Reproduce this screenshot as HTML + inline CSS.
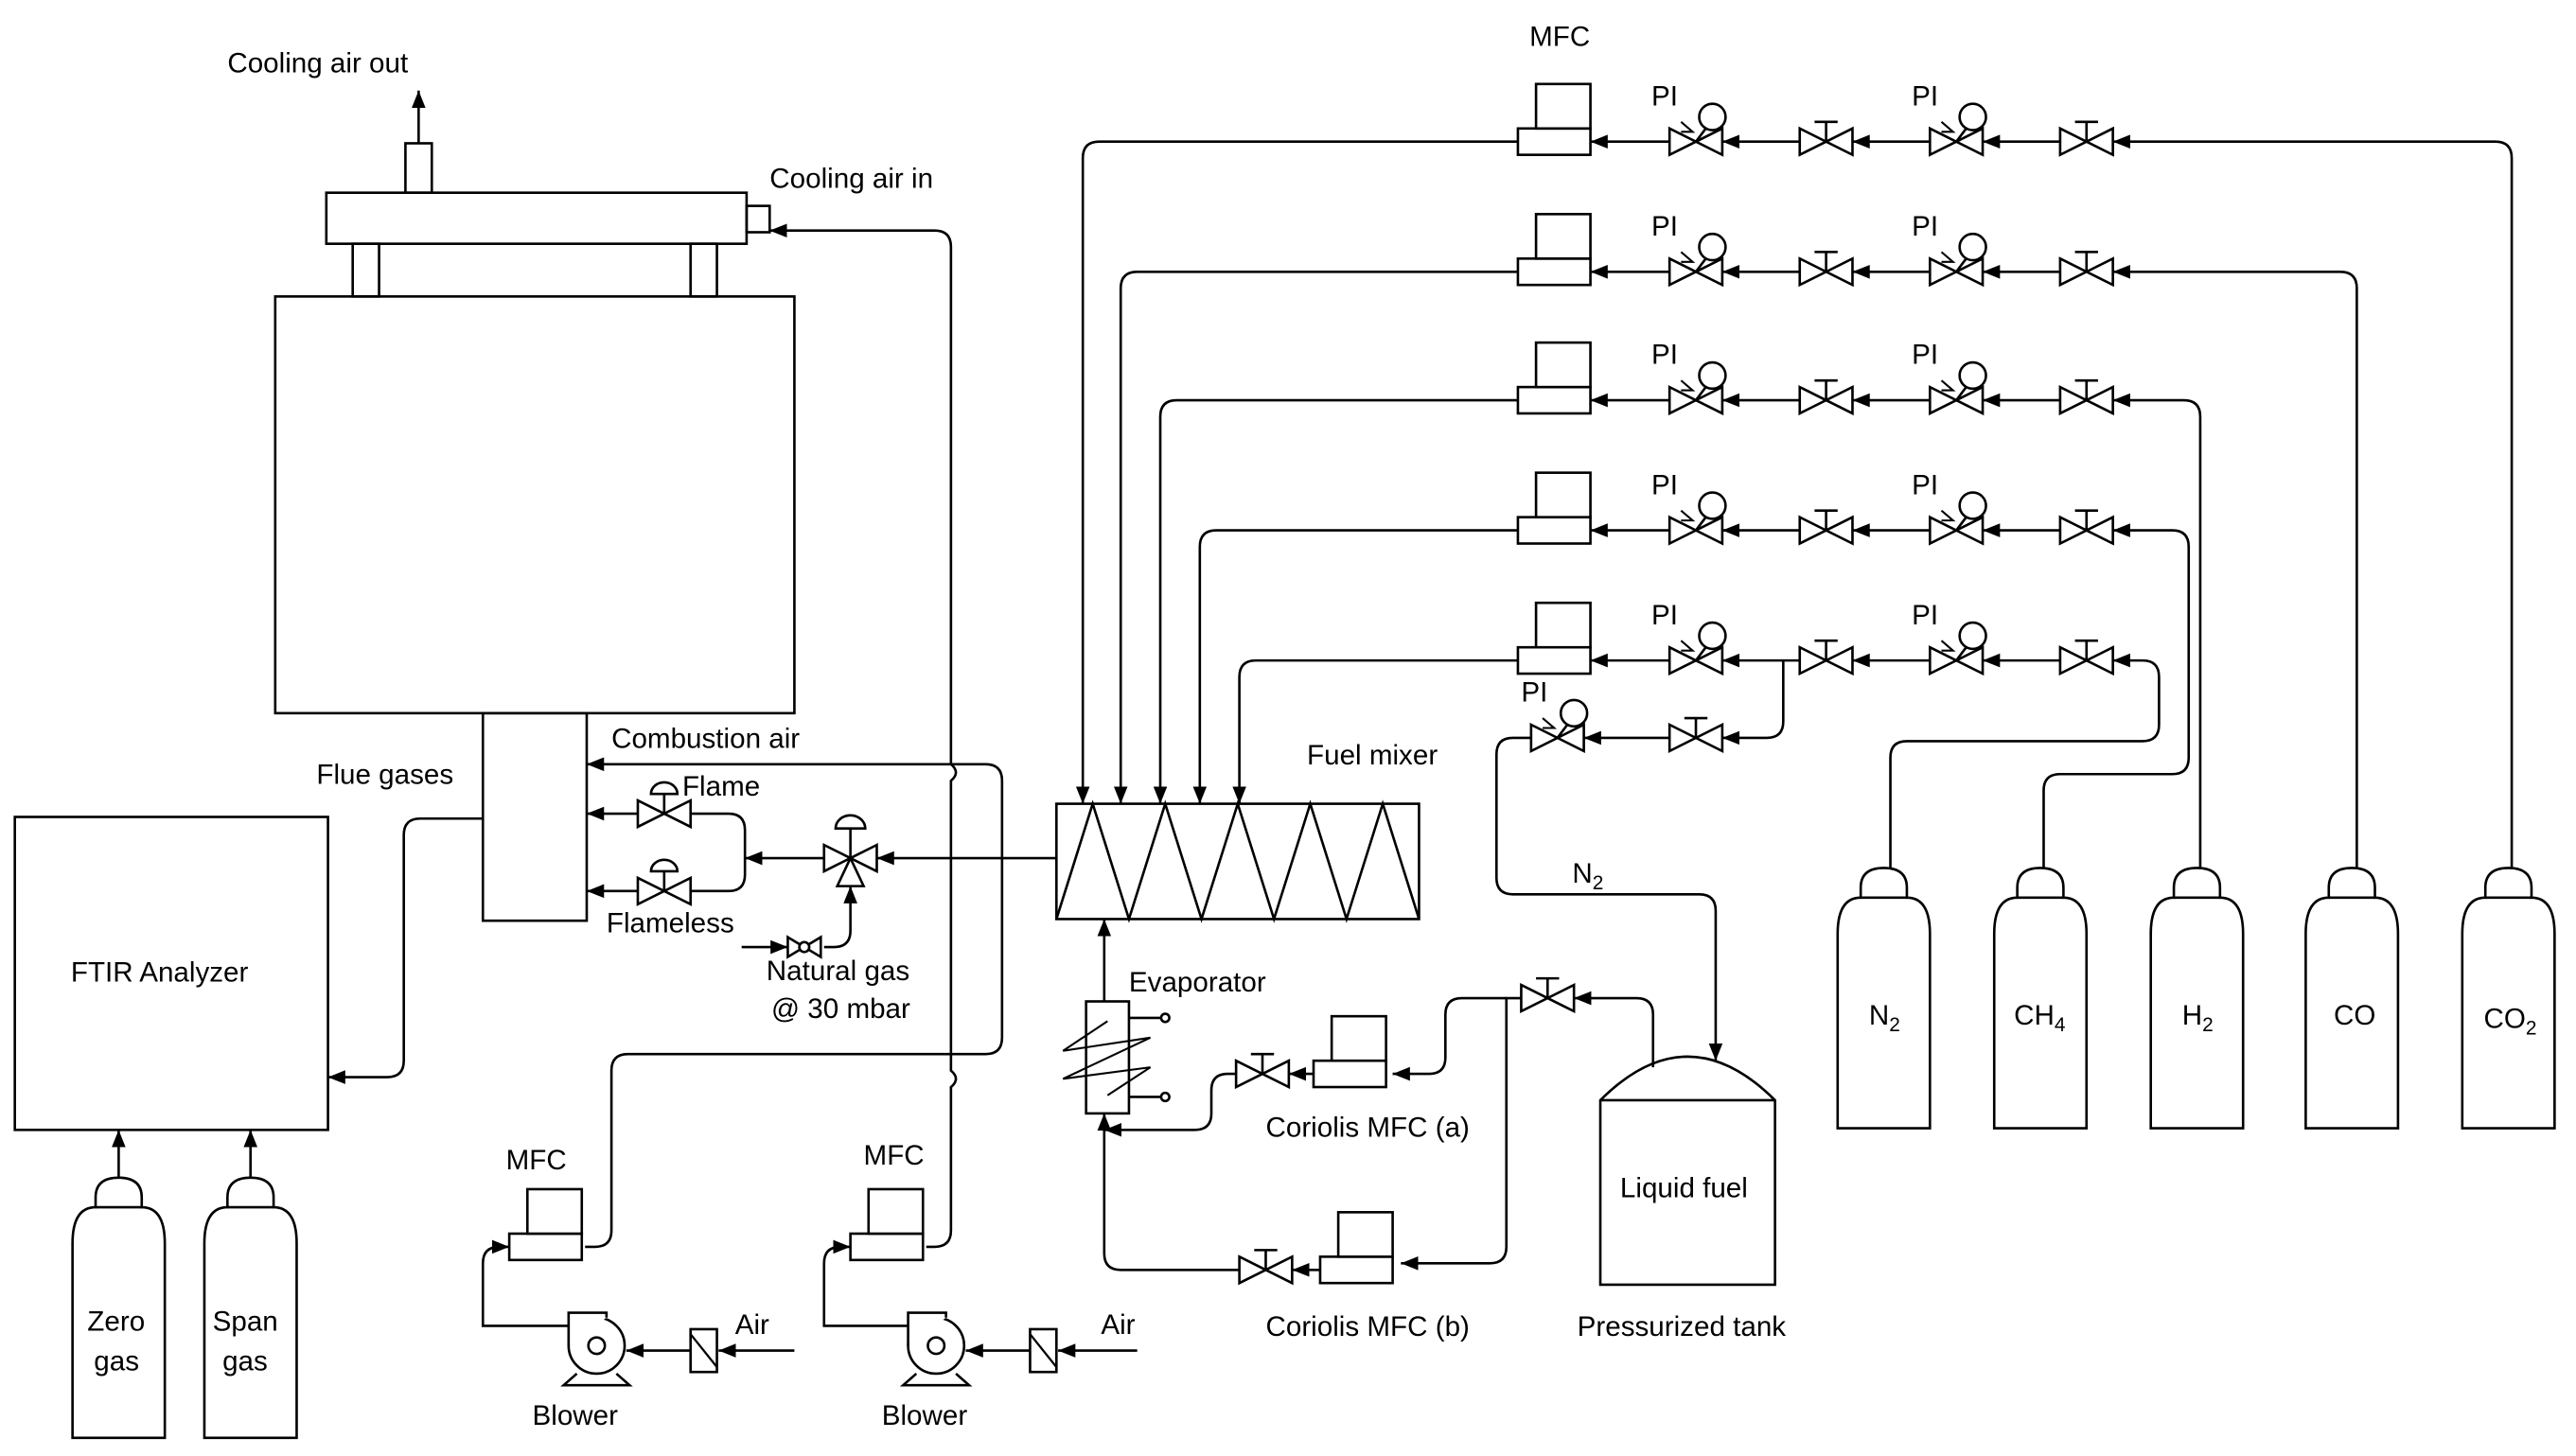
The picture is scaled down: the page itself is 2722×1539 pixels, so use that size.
<!DOCTYPE html>
<html><head><meta charset="utf-8"><style>
html,body{margin:0;padding:0;background:#fff;}
svg{display:block;}
text{font-family:"Liberation Sans",sans-serif;font-size:17px;fill:#000;}
</style></head><body>
<svg width="2722" height="1539" viewBox="0 0 1563 884" preserveAspectRatio="none" xmlns="http://www.w3.org/2000/svg">
<defs>
<marker id="a" viewBox="0 0 10 10" refX="10" refY="5" markerWidth="7" markerHeight="7" orient="auto"><path d="M0,1 L10,5 L0,9 z" fill="#000"/></marker>
<g id="bt"><path d="M-16,-8 L16,8 L16,-8 L-16,8 Z" fill="#fff" stroke="#000" stroke-width="1.5"/></g>
<g id="nv"><use href="#bt"/><line x1="0" y1="0" x2="0" y2="-12" stroke="#000" stroke-width="1.5"/><line x1="-7" y1="-12" x2="7" y2="-12" stroke="#000" stroke-width="1.5"/></g>
<g id="pv"><use href="#bt"/><line x1="0" y1="0" x2="6" y2="-8" stroke="#000" stroke-width="1.5"/><circle cx="10" cy="-15" r="8" fill="#fff" stroke="#000" stroke-width="1.5"/><path d="M-9,-12 L-2,-6 L-9,-6" fill="none" stroke="#000" stroke-width="1.2"/></g>
<g id="mfc"><rect x="0" y="-8" width="44" height="16" fill="#fff" stroke="#000" stroke-width="1.5"/><rect x="11" y="-35" width="33" height="27" fill="#fff" stroke="#000" stroke-width="1.5"/></g>
<g id="cyl"><path d="M0,0 L0,-118 Q0,-140 14,-140 L14,-146 Q14,-158 28,-158 Q42,-158 42,-146 L42,-140 Q56,-140 56,-118 L56,0 Z" fill="#fff" stroke="#000" stroke-width="1.5"/><line x1="14" y1="-140" x2="42" y2="-140" stroke="#000" stroke-width="1.5"/></g>
<g id="blw"><circle cx="0" cy="0" r="17" fill="#fff" stroke="#000" stroke-width="1.5"/><circle cx="0" cy="0" r="5" fill="none" stroke="#000" stroke-width="1.5"/><path d="M-17,0 L-17,-20 L6,-20 L6,-17" fill="#fff" stroke="#000" stroke-width="1.5"/><path d="M-12,17 L-20,24 L20,24 L12,17" fill="none" stroke="#000" stroke-width="1.5"/></g>
<g id="flt"><rect x="-8" y="-13" width="16" height="26" fill="#fff" stroke="#000" stroke-width="1.5"/><line x1="-8" y1="-10" x2="8" y2="10" stroke="#000" stroke-width="1.3"/></g>
</defs>
<g fill="none" stroke="#000" stroke-width="1.5">
<line x1="254" y1="87" x2="254" y2="55" marker-end="url(#a)"/>
<rect x="246" y="87" width="16" height="30" fill="#fff"/>
<rect x="198" y="117" width="255" height="31"/>
<rect x="453" y="125" width="14" height="16"/>
<rect x="214" y="148" width="16" height="32"/><rect x="419" y="148" width="16" height="32"/>
<rect x="167" y="180" width="315" height="253"/>
<rect x="293" y="433" width="63" height="126"/>
<rect x="9" y="496" width="190" height="190"/>
<path d="M293,497 L255,497 Q245,497 245,507 L245,644 Q245,654 235,654 L199,654" marker-end="url(#a)"/>
<line x1="72" y1="722" x2="72" y2="686" marker-end="url(#a)"/>
<line x1="152" y1="722" x2="152" y2="686" marker-end="url(#a)"/>
<path d="M355,757 L361,757 Q371,757 371,747 L371,650 Q371,640 381,640 L598,640 Q608,640 608,630 L608,474 Q608,464 598,464 L356,464" marker-end="url(#a)"/>
<path d="M562,757 L567,757 Q577,757 577,747 L577,660 Q583,655 577,650 L577,474 Q583,469 577,464 L577,150 Q577,140 567,140 L467,140" marker-end="url(#a)"/>
<line x1="387" y1="494" x2="356" y2="494" marker-end="url(#a)"/>
<line x1="387" y1="541" x2="356" y2="541" marker-end="url(#a)"/>
<path d="M419,494 L442,494 Q452,494 452,504 L452,531 Q452,541 442,541 L419,541"/>
<line x1="500" y1="521" x2="452" y2="521" marker-end="url(#a)"/>
<line x1="641" y1="521" x2="532" y2="521" marker-end="url(#a)"/>
<path d="M500,575 L506,575 Q516,575 516,565 L516,538" marker-end="url(#a)"/>
<line x1="450" y1="575" x2="478" y2="575" marker-end="url(#a)"/>
<rect x="641" y="488" width="220" height="70"/>
<path d="M641,558 L663,488 L685,558 L707,488 L729,558 L751,488 L773,558 L795,488 L817,558 L839,488 L861,558"/>
<path d="M921,86 L667,86 Q657,86 657,96 L657,488" marker-end="url(#a)"/>
<path d="M921,165 L690,165 Q680,165 680,175 L680,488" marker-end="url(#a)"/>
<path d="M921,243 L714,243 Q704,243 704,253 L704,488" marker-end="url(#a)"/>
<path d="M921,322 L738,322 Q728,322 728,332 L728,488" marker-end="url(#a)"/>
<path d="M921,401 L762,401 Q752,401 752,411 L752,488" marker-end="url(#a)"/>
<line x1="1013" y1="86" x2="965" y2="86" marker-end="url(#a)"/>
<line x1="1092" y1="86" x2="1045" y2="86" marker-end="url(#a)"/>
<line x1="1171" y1="86" x2="1124" y2="86" marker-end="url(#a)"/>
<line x1="1250" y1="86" x2="1203" y2="86" marker-end="url(#a)"/>
<path d="M1524,530 L1524,96 Q1524,86 1514,86 L1282,86" marker-end="url(#a)"/>
<line x1="1013" y1="165" x2="965" y2="165" marker-end="url(#a)"/>
<line x1="1092" y1="165" x2="1045" y2="165" marker-end="url(#a)"/>
<line x1="1171" y1="165" x2="1124" y2="165" marker-end="url(#a)"/>
<line x1="1250" y1="165" x2="1203" y2="165" marker-end="url(#a)"/>
<path d="M1430,530 L1430,175 Q1430,165 1420,165 L1282,165" marker-end="url(#a)"/>
<line x1="1013" y1="243" x2="965" y2="243" marker-end="url(#a)"/>
<line x1="1092" y1="243" x2="1045" y2="243" marker-end="url(#a)"/>
<line x1="1171" y1="243" x2="1124" y2="243" marker-end="url(#a)"/>
<line x1="1250" y1="243" x2="1203" y2="243" marker-end="url(#a)"/>
<path d="M1335,530 L1335,253 Q1335,243 1325,243 L1282,243" marker-end="url(#a)"/>
<line x1="1013" y1="322" x2="965" y2="322" marker-end="url(#a)"/>
<line x1="1092" y1="322" x2="1045" y2="322" marker-end="url(#a)"/>
<line x1="1171" y1="322" x2="1124" y2="322" marker-end="url(#a)"/>
<line x1="1250" y1="322" x2="1203" y2="322" marker-end="url(#a)"/>
<path d="M1240,530 L1240,480 Q1240,470 1250,470 L1318,470 Q1328,470 1328,460 L1328,332 Q1328,322 1318,322 L1282,322" marker-end="url(#a)"/>
<line x1="1013" y1="401" x2="965" y2="401" marker-end="url(#a)"/>
<line x1="1092" y1="401" x2="1045" y2="401" marker-end="url(#a)"/>
<line x1="1171" y1="401" x2="1124" y2="401" marker-end="url(#a)"/>
<line x1="1250" y1="401" x2="1203" y2="401" marker-end="url(#a)"/>
<path d="M1147,530 L1147,460 Q1147,450 1157,450 L1300,450 Q1310,450 1310,440 L1310,411 Q1310,401 1300,401 L1282,401" marker-end="url(#a)"/>
<path d="M1082,401 L1082,438 Q1082,448 1072,448 L1045,448" marker-end="url(#a)"/>
<line x1="1013" y1="448" x2="961" y2="448" marker-end="url(#a)"/>
<path d="M929,448 L918,448 Q908,448 908,458 L908,533 Q908,543 918,543 L1031,543 Q1041,543 1041,553 L1041,644" marker-end="url(#a)"/>
<path d="M971,780 L971,668 Q1024,615 1077,668 L1077,780 Z"/>
<line x1="971" y1="668" x2="1077" y2="668"/>
<path d="M1003,648 L1003,616 Q1003,606 993,606 L955,606" marker-end="url(#a)"/>
<path d="M923,606 L914,606 L914,757 Q914,767 904,767 L850,767" marker-end="url(#a)"/>
<path d="M914,606 L887,606 Q877,606 877,616 L877,642 Q877,652 867,652 L845,652" marker-end="url(#a)"/>
<line x1="797" y1="652" x2="782" y2="652" marker-end="url(#a)"/>
<path d="M750,652 L745,652 Q735,652 735,662 L735,676 Q735,686 725,686 L670,686" marker-end="url(#a)"/>
<line x1="801" y1="771" x2="784" y2="771" marker-end="url(#a)"/>
<path d="M752,771 L680,771 Q670,771 670,761 L670,676" marker-end="url(#a)"/>
<line x1="670" y1="608" x2="670" y2="558" marker-end="url(#a)"/>
<rect x="659" y="608" width="26" height="68" fill="#fff"/>
<path d="M672,620 L645,638 L698,630 L645,655 L698,648 L672,665" stroke-width="1.2"/>
<line x1="685" y1="618" x2="704" y2="618"/><circle cx="707" cy="618" r="2.5"/>
<line x1="685" y1="666" x2="704" y2="666"/><circle cx="707" cy="666" r="2.5"/>
<path d="M345,805 L293,805 L293,767 Q293,757 303,757 L309,757" marker-end="url(#a)"/>
<line x1="419" y1="820" x2="380" y2="820" marker-end="url(#a)"/>
<line x1="482" y1="820" x2="436" y2="820" marker-end="url(#a)"/>
<path d="M551,805 L500,805 L500,767 Q500,757 510,757 L516,757" marker-end="url(#a)"/>
<line x1="625" y1="820" x2="586" y2="820" marker-end="url(#a)"/>
<line x1="690" y1="820" x2="642" y2="820" marker-end="url(#a)"/>
</g>
<use href="#mfc" x="921" y="86"/><use href="#mfc" x="921" y="165"/><use href="#mfc" x="921" y="243"/><use href="#mfc" x="921" y="322"/><use href="#mfc" x="921" y="401"/>
<use href="#pv" x="1029" y="86"/><use href="#nv" x="1108" y="86"/><use href="#pv" x="1187" y="86"/><use href="#nv" x="1266" y="86"/>
<use href="#pv" x="1029" y="165"/><use href="#nv" x="1108" y="165"/><use href="#pv" x="1187" y="165"/><use href="#nv" x="1266" y="165"/>
<use href="#pv" x="1029" y="243"/><use href="#nv" x="1108" y="243"/><use href="#pv" x="1187" y="243"/><use href="#nv" x="1266" y="243"/>
<use href="#pv" x="1029" y="322"/><use href="#nv" x="1108" y="322"/><use href="#pv" x="1187" y="322"/><use href="#nv" x="1266" y="322"/>
<use href="#pv" x="1029" y="401"/><use href="#nv" x="1108" y="401"/><use href="#pv" x="1187" y="401"/><use href="#nv" x="1266" y="401"/>
<use href="#pv" x="945" y="448"/><use href="#nv" x="1029" y="448"/>
<use href="#nv" x="939" y="606"/><use href="#nv" x="766" y="652"/><use href="#nv" x="768" y="771"/>
<use href="#mfc" x="797" y="652"/><use href="#mfc" x="801" y="771"/>
<use href="#mfc" x="309" y="757"/><use href="#mfc" x="516" y="757"/>
<g transform="translate(403,494)"><path d="M-16,-8 L16,8 L16,-8 L-16,8 Z" fill="#fff" stroke="#000" stroke-width="1.5"/><line x1="0" y1="0" x2="0" y2="-12" stroke="#000" stroke-width="1.5"/><path d="M-8,-12 A8,7 0 0 1 8,-12 Z" fill="#fff" stroke="#000" stroke-width="1.5"/></g>
<g transform="translate(403,541)"><path d="M-16,-8 L16,8 L16,-8 L-16,8 Z" fill="#fff" stroke="#000" stroke-width="1.5"/><line x1="0" y1="0" x2="0" y2="-12" stroke="#000" stroke-width="1.5"/><path d="M-8,-12 A8,7 0 0 1 8,-12 Z" fill="#fff" stroke="#000" stroke-width="1.5"/></g>
<g transform="translate(516,521)" fill="#fff" stroke="#000" stroke-width="1.5"><path d="M-16,-8 L0,0 L-16,8 Z"/><path d="M16,-8 L0,0 L16,8 Z"/><path d="M-8,17 L0,0 L8,17 Z"/><line x1="0" y1="0" x2="0" y2="-18"/><path d="M-9,-18 A9,8 0 0 1 9,-18 Z"/></g>
<g transform="translate(488,575)" fill="#fff" stroke="#000" stroke-width="1.5"><path d="M-10,-6 L10,6 L10,-6 L-10,6 Z"/><circle cx="0" cy="0" r="3"/></g>
<use href="#cyl" x="44" y="873"/><use href="#cyl" x="124" y="873"/>
<use href="#cyl" x="1115" y="685"/><use href="#cyl" x="1210" y="685"/><use href="#cyl" x="1305" y="685"/><use href="#cyl" x="1399" y="685"/><use href="#cyl" x="1494" y="685"/>
<use href="#blw" x="362" y="817"/><use href="#blw" x="568" y="817"/>
<use href="#flt" x="427" y="820"/><use href="#flt" x="633" y="820"/>
<text x="138" y="44">Cooling air out</text>
<text x="467" y="114">Cooling air in</text>
<text x="928" y="28">MFC</text>
<text x="371" y="454">Combustion air</text>
<text x="192" y="476">Flue gases</text>
<text x="414" y="483">Flame</text>
<text x="368" y="566">Flameless</text>
<text x="793" y="464">Fuel mixer</text>
<text x="465" y="595">Natural gas</text>
<text x="468" y="618">@ 30 mbar</text>
<text x="43" y="596">FTIR Analyzer</text>
<text x="53" y="808">Zero</text><text x="57" y="832">gas</text>
<text x="129" y="808">Span</text><text x="135" y="832">gas</text>
<text x="685" y="602">Evaporator</text>
<text x="768" y="690">Coriolis MFC (a)</text>
<text x="768" y="811">Coriolis MFC (b)</text>
<text x="983" y="727">Liquid fuel</text>
<text x="957" y="811">Pressurized tank</text>
<text x="954" y="536">N<tspan font-size="12" dy="4">2</tspan></text>
<text x="307" y="710">MFC</text><text x="524" y="707">MFC</text>
<text x="446" y="810">Air</text><text x="668" y="810">Air</text>
<text x="323" y="865">Blower</text><text x="535" y="865">Blower</text>
<text x="1002" y="64">PI</text><text x="1160" y="64">PI</text>
<text x="1002" y="143">PI</text><text x="1160" y="143">PI</text>
<text x="1002" y="221">PI</text><text x="1160" y="221">PI</text>
<text x="1002" y="300">PI</text><text x="1160" y="300">PI</text>
<text x="1002" y="379">PI</text><text x="1160" y="379">PI</text>
<text x="923" y="426">PI</text>
<text x="1134" y="622">N<tspan font-size="12" dy="4">2</tspan></text>
<text x="1222" y="622">CH<tspan font-size="12" dy="4">4</tspan></text>
<text x="1324" y="622">H<tspan font-size="12" dy="4">2</tspan></text>
<text x="1416" y="622">CO</text>
<text x="1507" y="624">CO<tspan font-size="12" dy="4">2</tspan></text>
</svg>
</body></html>
